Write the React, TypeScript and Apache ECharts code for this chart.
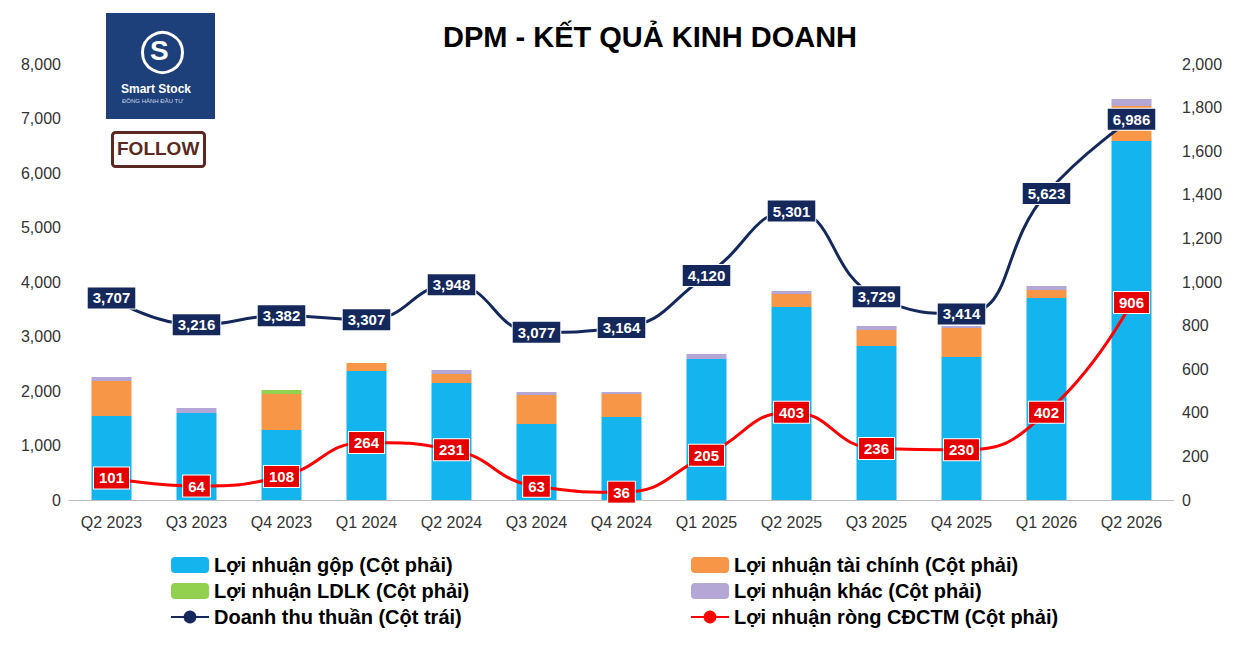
import React, { useEffect, useRef } from 'react';
import * as echarts from 'echarts';

const categories = ['Q2 2023', 'Q3 2023', 'Q4 2023', 'Q1 2024', 'Q2 2024', 'Q3 2024', 'Q4 2024', 'Q1 2025', 'Q2 2025', 'Q3 2025', 'Q4 2025', 'Q1 2026', 'Q2 2026'];
const grossProfit = [385, 399, 321, 592, 537, 349, 381, 647, 885, 706, 656, 927, 1647];
const financialProfit = [161, 0, 165, 36, 41, 133, 105, 0, 60, 74, 133, 36, 160];
const associateProfit = [0, 0, 19, 0, 0, 0, 0, 0, 0, 0, 0, 0, 0];
const otherProfit = [18, 23, 0, 0, 18, 13, 9, 23, 14, 18, 9, 19, 32];
const revenue = [3707, 3216, 3382, 3307, 3948, 3077, 3164, 4120, 5301, 3729, 3414, 5623, 6986];
const netProfit = [101, 64, 108, 264, 231, 63, 36, 205, 403, 236, 230, 402, 906];

const FONT = 'Liberation Sans';

const App: React.FC = () => {
  const chartRef = useRef<HTMLDivElement>(null);

  useEffect(() => {
    document.body.style.margin = '0';
    if (!chartRef.current) return;
    const chart = echarts.init(chartRef.current, undefined, { renderer: 'svg' });

    const barSeries = (name: string, data: number[], color: string) => ({
      name,
      type: 'bar' as const,
      stack: 'profit',
      yAxisIndex: 1,
      barWidth: 40,
      data,
      itemStyle: { color },
    });

    const legendText = { fontSize: 20, fontWeight: 'bold' as const, color: '#000', fontFamily: FONT };

    const option: echarts.EChartsOption = {
      animation: false,
      backgroundColor: '#fff',
      textStyle: { fontFamily: FONT },
      title: {
        text: 'DPM - KẾT QUẢ KINH DOANH',
        left: 645,
        top: 17,
        textAlign: 'center',
        textStyle: { fontSize: 29, fontWeight: 'bold', color: '#000', fontFamily: FONT },
      },
      grid: { left: 69, right: 73, top: 64, bottom: 151 },
      legend: [
        {
          orient: 'vertical',
          left: 165,
          top: 550,
          itemGap: 6,
          itemWidth: 38,
          itemHeight: 16,
          textStyle: legendText,
          data: ['Lợi nhuận gộp (Cột phải)', 'Lợi nhuận LDLK (Cột phải)', 'Doanh thu thuần (Cột trái)'],
        },
        {
          orient: 'vertical',
          left: 685,
          top: 550,
          itemGap: 6,
          itemWidth: 38,
          itemHeight: 16,
          textStyle: legendText,
          data: ['Lợi nhuận tài chính (Cột phải)', 'Lợi nhuận khác (Cột phải)', 'Lợi nhuận ròng CĐCTM (Cột phải)'],
        },
      ],
      xAxis: {
        type: 'category',
        data: categories,
        axisLine: { lineStyle: { color: '#bfbfbf' } },
        axisTick: { show: false },
        axisLabel: { fontSize: 16, color: '#333', margin: 14 },
      },
      yAxis: [
        {
          type: 'value',
          min: 0,
          max: 8000,
          interval: 1000,
          splitLine: { show: false },
          axisLabel: { fontSize: 16, color: '#333', formatter: (v: number) => v.toLocaleString('en-US') },
        },
        {
          type: 'value',
          min: 0,
          max: 2000,
          interval: 200,
          splitLine: { show: false },
          axisLabel: { fontSize: 16, color: '#333', formatter: (v: number) => v.toLocaleString('en-US') },
        },
      ],
      series: [
        barSeries('Lợi nhuận gộp (Cột phải)', grossProfit, '#14b4ef'),
        barSeries('Lợi nhuận tài chính (Cột phải)', financialProfit, '#f79646'),
        barSeries('Lợi nhuận LDLK (Cột phải)', associateProfit, '#92d050'),
        barSeries('Lợi nhuận khác (Cột phải)', otherProfit, '#b4a7d6'),
        {
          name: 'Doanh thu thuần (Cột trái)',
          type: 'line',
          yAxisIndex: 0,
          smooth: true,
          data: revenue,
          symbol: 'circle',
          symbolSize: 8,
          itemStyle: { color: '#14285c' },
          lineStyle: { color: '#14285c', width: 3 },
          label: {
            show: true,
            position: 'inside',
            formatter: (p: any) => p.value.toLocaleString('en-US'),
            backgroundColor: '#14285c',
            color: '#fff',
            fontWeight: 'bold',
            fontSize: 15,
            padding: [3, 5],
            borderColor: '#fff',
            borderWidth: 1,
          },
          z: 5,
        },
        {
          name: 'Lợi nhuận ròng CĐCTM (Cột phải)',
          type: 'line',
          yAxisIndex: 1,
          smooth: true,
          data: netProfit,
          symbol: 'circle',
          symbolSize: 8,
          itemStyle: { color: '#ff0000' },
          lineStyle: { color: '#ff0000', width: 3 },
          label: {
            show: true,
            position: 'inside',
            backgroundColor: '#e60000',
            color: '#fff',
            fontWeight: 'bold',
            fontSize: 15,
            padding: [3, 5],
            borderColor: '#fff',
            borderWidth: 1,
          },
          z: 6,
        },
      ],
      graphic: [
        { type: 'rect', left: 106, top: 13, shape: { width: 109, height: 106 }, style: { fill: '#1d3f7a' } },
        { type: 'circle', left: 140, top: 30, shape: { r: 20 }, style: { fill: 'none', stroke: '#fff', lineWidth: 3 } },
        { type: 'text', left: 150, top: 36, style: { text: 'S', fill: '#fff', font: 'bold 28px Liberation Sans' } },
        { type: 'text', left: 121, top: 83, style: { text: 'Smart Stock', fill: '#fff', font: 'bold 12px Liberation Sans' } },
        { type: 'text', left: 122, top: 98, style: { text: 'ĐỒNG HÀNH ĐẦU TƯ', fill: '#cfd8e8', font: '6px Liberation Sans' } },
        { type: 'rect', left: 111, top: 131, shape: { width: 92, height: 34, r: 3 }, style: { fill: '#fff', stroke: '#5a2a22', lineWidth: 3 } },
        { type: 'text', left: 117, top: 139, style: { text: 'FOLLOW', fill: '#5a2a22', font: 'bold 19px Liberation Sans' } },
      ],
    };

    chart.setOption(option);
    return () => chart.dispose();
  }, []);

  return <div ref={chartRef} style={{ width: 1247, height: 651 }} />;
};

export default App;
